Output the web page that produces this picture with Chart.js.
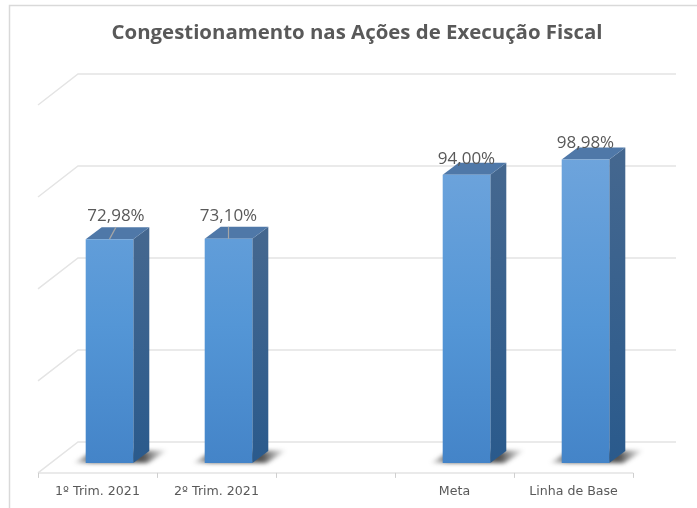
<!DOCTYPE html>
<html><head><meta charset="utf-8">
<style>html,body{margin:0;padding:0;background:#fff;overflow:hidden}#wrap{position:absolute;left:0;top:0;width:697px;height:508px}canvas{filter:blur(0.6px)}</style>
<script src="https://cdn.jsdelivr.net/npm/chart.js@4"></script></head>
<body><div id="wrap"><canvas id="c" width="697" height="508"></canvas></div>
<script>
const categories = ["1º Trim. 2021","2º Trim. 2021","","Meta","Linha de Base"];
const congestionamento = [72.98,73.10,null,94.00,98.98];
const dataLabels = ["72,98%","73,10%","","94,00%","98,98%"];
const titleText = "Congestionamento nas Ações de Execução Fiscal";
const yTicks = [0,30,60,90,120];

const DX=40, DY=-31, BX=12, BY=-10, SX=16, SY=-12;
const labelStyle=[{dx:6.5,dy:-23,leader:true},{dx:0,dy:-23,leader:true},null,{dx:0,dy:-16},{dx:0,dy:-16}];
const threeD = {
  id:'threeD',
  beforeDraw(ch){
    const c=ch.ctx; c.save();
    c.strokeStyle='#d9d9d9'; c.lineWidth=1.5;
    c.beginPath();c.moveTo(9.5,508);c.lineTo(9.5,5.5);c.lineTo(697,5.5);c.stroke();
    c.restore();
  },
  beforeDatasetsDraw(ch){
    const c=ch.ctx,x=ch.scales.x,y=ch.scales.y,a=ch.chartArea;
    c.save();
    c.strokeStyle='#e4e4e4'; c.lineWidth=1.5;
    yTicks.forEach(t=>{
      const py=y.getPixelForValue(t);
      c.beginPath();c.moveTo(a.left,py);c.lineTo(a.left+DX,py+DY);c.lineTo(a.right+43,py+DY);
      if(t===0){c.moveTo(a.left,py);c.lineTo(a.right,py);}
      c.stroke();
    });
    c.lineWidth=1;c.strokeStyle='#cfcfcf';
    const y0=y.getPixelForValue(0);
    for(let i=0;i<=categories.length;i++){
      const px=Math.round(a.left+i*(a.right-a.left)/categories.length)+.5;
      c.beginPath();c.moveTo(px,y0);c.lineTo(px,y0+5);c.stroke();
    }
    c.restore();
  },
  beforeDatasetDraw(ch,args){
    const c=ch.ctx,meta=args.meta;
    c.save();
    c.translate(BX,BY);
    meta.data.forEach((b,i)=>{
      if(congestionamento[i]==null)return;
      const p=b.getProps(['x','y','base','width'],true);
      const l=p.x-p.width/2,r=p.x+p.width/2,t=p.y,bo=p.base;
      // floor shadow
      c.save();
      const sg=c.createLinearGradient(l-14,0,r+34,0);
      sg.addColorStop(0,'rgba(60,60,60,0)');sg.addColorStop(.2,'rgba(50,50,50,.75)');sg.addColorStop(.75,'rgba(40,40,40,.8)');sg.addColorStop(1,'rgba(60,60,60,0)');
      c.fillStyle=sg;
      c.filter='blur(2px)';
      c.beginPath();c.moveTo(l-12,bo);c.lineTo(l+4,bo-10);c.lineTo(r+36,bo-13);c.lineTo(r+14,bo);c.closePath();
      c.fill();
      c.restore();
      // side
      const sd=c.createLinearGradient(0,t,0,bo);
      sd.addColorStop(0,'#44678f');sd.addColorStop(1,'#2a5a8c');
      c.fillStyle=sd;
      c.beginPath();c.moveTo(r,t);c.lineTo(r+SX,t+SY);c.lineTo(r+SX,bo+SY);c.lineTo(r,bo);c.closePath();c.fill();
      // top
      c.fillStyle='#4f78a8';
      c.beginPath();c.moveTo(l,t);c.lineTo(l+SX,t+SY);c.lineTo(r+SX,t+SY);c.lineTo(r,t);c.closePath();c.fill();
    });
  },
  afterDatasetDraw(ch,args){
    const c=ch.ctx;
    c.restore();
    c.save();
    c.font='17px "Open Sans"';c.fillStyle='#595959';c.textAlign='center';c.textBaseline='middle';
    args.meta.data.forEach((b,i)=>{
      if(congestionamento[i]==null)return;
      const p=b.getProps(['x','y'],true);
      const s=labelStyle[i],cx=p.x+BX,ty=p.y+BY;
      if(s.leader){c.strokeStyle='#a6a6a6';c.lineWidth=1.2;c.beginPath();c.moveTo(cx,ty);c.lineTo(cx+s.dx,ty-12);c.stroke();}
      c.fillText(dataLabels[i],cx+s.dx,ty+s.dy);
    });
    c.restore();
  }
};
function barFill(ctx){
  const ch=ctx.chart,y=ch.scales.y;
  if(!y||!isFinite(y.getPixelForValue(0)))return '#5496d6';
  const g=ch.ctx.createLinearGradient(0,y.getPixelForValue(100),0,y.getPixelForValue(0));
  g.addColorStop(0,'#6ea4dc');g.addColorStop(.55,'#5496d6');g.addColorStop(1,'#4484c8');
  return g;
}
new Chart(document.getElementById('c'),{
  type:'bar',
  data:{labels:categories,datasets:[{data:congestionamento,backgroundColor:barFill,borderWidth:0,barPercentage:0.4,categoryPercentage:1}]},
  options:{
    responsive:false,animation:false,
    layout:{padding:{left:38,right:64,top:105,bottom:6}},
    plugins:{legend:{display:false},tooltip:{enabled:false},title:{display:false}},
    scales:{
      x:{grid:{display:false},border:{display:false},
         ticks:{color:'#595959',font:{family:'DejaVu Sans',size:12.6},maxRotation:0,autoSkip:false,padding:3}},
      y:{min:0,max:120,afterFit(s){s.width=0;},grid:{display:false},border:{display:false},ticks:{display:false,stepSize:30}}
    }
  },
  plugins:[threeD,{id:'t',afterDraw(ch){const c=ch.ctx;c.save();c.font='bold 20.4px "Open Sans"';c.fillStyle='#595959';c.textAlign='center';c.fillText(titleText,357,39);c.restore();}}]
});
</script></body></html>
